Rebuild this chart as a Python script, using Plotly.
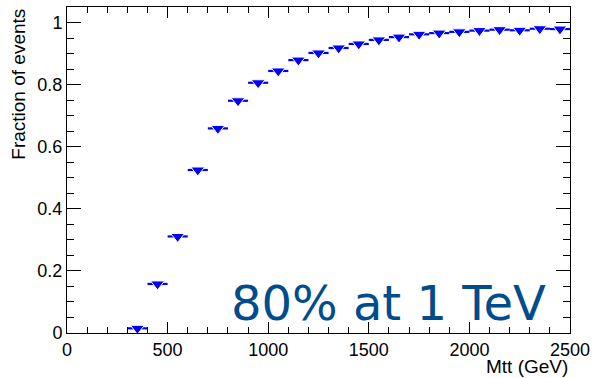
import plotly.graph_objects as go

bin_centers = [350, 450, 550, 650, 750, 850, 950, 1050, 1150, 1250, 1350,
               1450, 1550, 1650, 1750, 1850, 1950, 2050, 2150, 2250, 2350, 2450]
fraction = [0.015, 0.158, 0.311, 0.525, 0.659, 0.748, 0.806, 0.844, 0.879, 0.902, 0.918,
            0.931, 0.944, 0.953, 0.962, 0.966, 0.970, 0.974, 0.977, 0.975, 0.980, 0.979]
half_width = [50] * len(bin_centers)

x_title = "Mtt (GeV)"
y_title = "Fraction of events"
note = "80% at 1 TeV"

axis_font = dict(family="Liberation Sans, Arial, sans-serif", size=18, color="black")
title_font = dict(family="Liberation Sans, Arial, sans-serif", size=19, color="black")

fig = go.Figure()
fig.add_trace(go.Scatter(
    x=bin_centers, y=fraction, mode="markers",
    marker=dict(symbol="triangle-down", size=12, color="rgb(0,0,255)",
                line=dict(color="white", width=1)),
    error_x=dict(type="data", array=half_width, visible=True, width=0,
                 thickness=2.2, color="rgb(0,0,255)"),
    showlegend=False,
))

fig.update_xaxes(
    range=[0, 2500], dtick=500, tick0=0, ticks="inside", ticklen=11, tickwidth=1,
    tickcolor="black", mirror="allticks", showline=True, linecolor="black", linewidth=1,
    showgrid=False, zeroline=False, tickfont=axis_font,
    minor=dict(ticks="inside", ticklen=6, dtick=100, tickcolor="black", showgrid=False),
)
fig.update_yaxes(
    range=[0, 1.05], dtick=0.2, tick0=0, ticks="inside", ticklen=14, tickwidth=1,
    tickcolor="black", mirror="allticks", showline=True, linecolor="black", linewidth=1,
    showgrid=False, zeroline=False, tickfont=axis_font,
    minor=dict(ticks="inside", ticklen=7, dtick=0.05, tickcolor="black", showgrid=False),
)

fig.add_annotation(text=y_title, xref="paper", yref="paper", x=-0.097, y=1.0,
                   xanchor="center", yanchor="top", textangle=-90, showarrow=False,
                   font=title_font)
fig.add_annotation(text=x_title, xref="paper", yref="paper", x=1.0, y=-0.104,
                   xanchor="right", yanchor="middle", showarrow=False, font=title_font)
fig.add_annotation(text=note, xref="paper", yref="paper", x=0.957, y=0.0,
                   xanchor="right", yanchor="bottom", showarrow=False,
                   font=dict(family="DejaVu Sans", size=48, color="rgb(0,76,140)"))

fig.update_layout(
    width=596, height=378, margin=dict(l=67, r=23, t=6, b=45),
    paper_bgcolor="white", plot_bgcolor="white",
)
fig.write_html("out.html")
